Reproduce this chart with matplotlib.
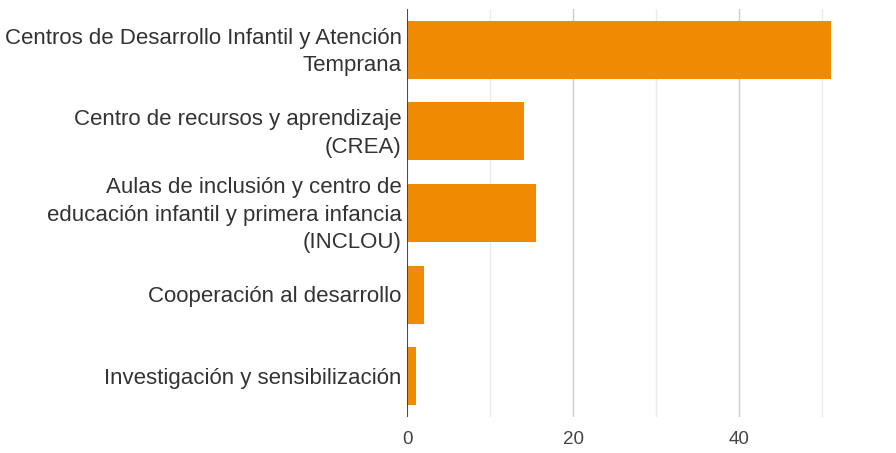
import matplotlib.pyplot as plt
import matplotlib.transforms as mtransforms

categories = [
    "Centros de Desarrollo Infantil y Atención\nTemprana",
    "Centro de recursos y aprendizaje\n(CREA)",
    "Aulas de inclusión y centro de\neducación infantil y primera infancia\n(INCLOU)",
    "Cooperación al desarrollo",
    "Investigación y sensibilización",
]
values = [51, 14, 15.5, 2, 1]
major_ticks = [0, 20, 40]
minor_ticks = [10, 30, 50]

plt.rcParams['font.family'] = ['Liberation Sans', 'DejaVu Sans']

fig = plt.figure(figsize=(8.96, 4.53), dpi=100)
ax = fig.add_axes([0.4546, 0.0795, 0.5002, 0.9007])

ys = list(range(len(categories)))
ax.barh(ys, values, height=0.71, color="#f08a00", zorder=3)

ax.set_ylim(len(categories) - 0.5, -0.5)
ax.set_xlim(0, 54)

ax.set_xticks(major_ticks)
ax.set_xticks(minor_ticks, minor=True)
ax.grid(True, axis='x', which='major', color='#cccccc', linewidth=1, zorder=0)
ax.grid(True, axis='x', which='minor', color='#ebebeb', linewidth=1, zorder=0)
ax.axvline(0, color='#333333', linewidth=1.2, zorder=4)

ax.set_yticks(ys)
ax.set_yticklabels(categories, fontsize=16, color='#333333', linespacing=1.42, va='center')
ax.tick_params(axis='y', length=0, pad=4)
ax.tick_params(axis='x', which='both', length=0, pad=10, labelsize=13.5, labelcolor='#444444')

# nudge labels down a couple of pixels
shift = mtransforms.ScaledTranslation(0, -0.022, fig.dpi_scale_trans)
for lbl in ax.get_yticklabels():
    lbl.set_transform(lbl.get_transform() + shift)

for s in ax.spines.values():
    s.set_visible(False)

fig.savefig("out.png", dpi=100)
